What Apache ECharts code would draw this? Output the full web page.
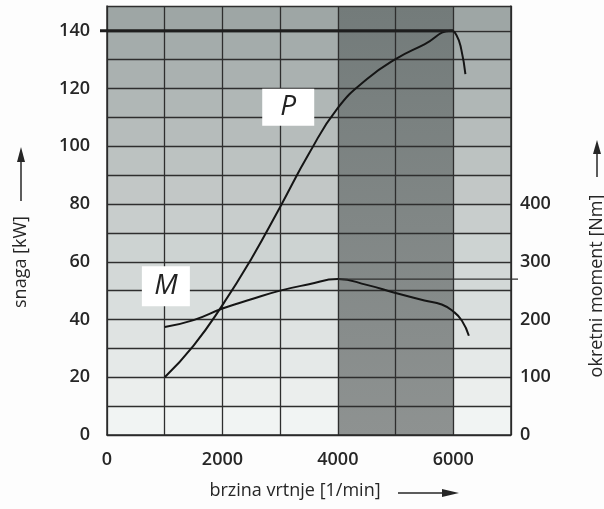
<!DOCTYPE html>
<html><head><meta charset="utf-8">
<script src="https://cdn.jsdelivr.net/npm/echarts@6/dist/echarts.min.js"></script>
<style>html,body{margin:0;padding:0;background:#fdfdfd}#c{width:604px;height:509px}</style>
</head><body><div id="c"></div>
<script>
// ---- data ----
const rpmTicks = [0, 2000, 4000, 6000];
const powerTicks = [0, 20, 40, 60, 80, 100, 120, 140];
const torqueTicks = [0, 100, 200, 300, 400];
const powerRpm = [1000, 1500, 2000, 2500, 3000, 3500, 4000, 4500, 5000, 5500, 5960, 6060, 6140, 6210];
const powerKW  = [20, 31, 45, 61, 79, 97.5, 113.3, 123.2, 130.2, 135.3, 140, 138.3, 133.4, 125];
const torqueRpm = [1000, 1500, 2000, 2500, 3000, 3500, 4000, 4500, 5000, 5500, 5800, 6000, 6150, 6270];
const torqueNm  = [187, 199, 219, 235, 250, 261, 270, 260, 246, 233, 226, 214, 198, 172];
const peakPower = [6000, 140];
const peakTorque = [4000, 270];
const ratedBand = [4000, 6000];
const labelP = [3140, 113.5];
const labelM = [1020, 51.5];

// ---- build ----
const xMax = 7000, yMax = 148.6, ratio = 5;
const pData = powerRpm.map((r, i) => [r, powerKW[i]]);
const mData = torqueRpm.map((r, i) => [r, torqueNm[i]]);

const rows = [];
const nRows = Math.ceil(yMax / 10);
for (let i = 0; i < nRows; i++) {
  const t = i / (nRows - 1);
  const c = [Math.round(241 - t * 83), Math.round(244 - t * 78), Math.round(243 - t * 78)];
  rows.push([{ yAxis: i * 10, itemStyle: { color: `rgb(${c.join(',')})` } }, { yAxis: Math.min((i + 1) * 10, yMax) }]);
}

const font = '"Open Sans", "Noto Sans", sans-serif';
const txt = '#262626';
const gridCol = '#2e2e2e';
const chart = echarts.init(document.getElementById('c'), null, { renderer: 'canvas' });
chart.setOption({
  backgroundColor: '#fdfdfd',
  animation: false,
  grid: { left: 107, right: 93, top: 6, bottom: 74, containLabel: false },
  xAxis: {
    type: 'value', min: 0, max: xMax, interval: 1000, z: 3,
    axisLine: { show: true, lineStyle: { color: '#2a2a2a', width: 1.5 } },
    axisTick: { show: false },
    splitLine: { show: true, lineStyle: { color: gridCol, width: 1.3 } },
    axisLabel: { margin: 16, fontFamily: font, fontSize: 18, fontWeight: 600, color: txt,
      formatter: v => rpmTicks.includes(v) ? String(v) : '' }
  },
  yAxis: [
    { type: 'value', min: 0, max: yMax, interval: 10, z: 3,
      axisLine: { show: true, lineStyle: { color: '#2a2a2a', width: 1.5 } },
      axisTick: { show: false },
      splitLine: { show: true, lineStyle: { color: gridCol, width: 1.3 } },
      axisLabel: { margin: 17, fontFamily: font, fontSize: 18, fontWeight: 600, color: txt,
        formatter: v => powerTicks.includes(v) ? String(v) : '' } },
    { type: 'value', min: 0, max: yMax * ratio, interval: 100, position: 'right', z: 3,
      axisLine: { show: true, lineStyle: { color: '#2a2a2a', width: 1.5 } },
      axisTick: { show: false }, splitLine: { show: false },
      axisLabel: { margin: 9, fontFamily: font, fontSize: 18, fontWeight: 600, color: txt,
        formatter: v => torqueTicks.includes(v) ? String(v) : '' } }
  ],
  series: [
    { type: 'line', data: [], z: 1, silent: true,
      markArea: { silent: true, data: rows.concat([[
        { xAxis: ratedBand[0], itemStyle: { color: { type: 'linear', x: 0, y: 0, x2: 0, y2: 1,
          colorStops: [{ offset: 0, color: '#737b7a' }, { offset: 1, color: '#8e9291' }] } } },
        { xAxis: ratedBand[1] }]]) } },
    { name: 'P', type: 'line', yAxisIndex: 0, data: pData, smooth: 0.5, symbol: 'none',
      lineStyle: { color: '#151515', width: 2 }, z: 10,
      markPoint: { silent: true, symbol: 'rect', symbolSize: [52, 37],
        itemStyle: { color: '#ffffff' },
        label: { show: true, formatter: 'P', fontFamily: font, fontStyle: 'italic', fontSize: 28, color: '#222' },
        data: [{ coord: labelP }] } },
    { name: 'M', type: 'line', yAxisIndex: 1, data: mData, smooth: 0.5, symbol: 'none',
      lineStyle: { color: '#151515', width: 2 }, z: 10,
      markPoint: { silent: true, symbol: 'rect', symbolSize: [48, 40],
        itemStyle: { color: '#ffffff' },
        label: { show: true, formatter: 'M', fontFamily: font, fontStyle: 'italic', fontSize: 28, color: '#222' },
        data: [{ coord: [labelM[0], labelM[1] * ratio] }] } }
  ]
});

// reference lines & titles (positions derived from the chart's own scales)
const pPeak = chart.convertToPixel({ xAxisIndex: 0, yAxisIndex: 0 }, peakPower);
const pLeft = chart.convertToPixel({ xAxisIndex: 0, yAxisIndex: 0 }, [0, peakPower[1]]);
const mPeak = chart.convertToPixel({ xAxisIndex: 0, yAxisIndex: 1 }, peakTorque);
const mRight = chart.convertToPixel({ xAxisIndex: 0, yAxisIndex: 1 }, [xMax, peakTorque[1]]);
const tf = '18px ' + font;
chart.setOption({
  graphic: [
    { type: 'line', z: 20, shape: { x1: pLeft[0] - 7, y1: pPeak[1], x2: pPeak[0], y2: pPeak[1] },
      style: { stroke: '#1e1e1e', lineWidth: 3 } },
    { type: 'line', z: 20, shape: { x1: mPeak[0], y1: mPeak[1], x2: mRight[0] + 7, y2: mPeak[1] },
      style: { stroke: '#303030', lineWidth: 1.3 } },
    { type: 'text', x: 21, y: 262, rotation: Math.PI / 2,
      style: { text: 'snaga [kW]', font: tf, fill: txt, align: 'center', verticalAlign: 'middle' } },
    { type: 'line', shape: { x1: 21, y1: 201, x2: 21, y2: 158 }, style: { stroke: txt, lineWidth: 1.5 } },
    { type: 'polygon', shape: { points: [[17, 162], [25, 162], [21, 147]] }, style: { fill: txt } },
    { type: 'text', x: 597, y: 286, rotation: Math.PI / 2,
      style: { text: 'okretni moment [Nm]', font: tf, fill: txt, align: 'center', verticalAlign: 'middle' } },
    { type: 'line', shape: { x1: 597, y1: 177, x2: 597, y2: 150 }, style: { stroke: txt, lineWidth: 1.5 } },
    { type: 'polygon', shape: { points: [[593, 154], [601, 154], [597, 140]] }, style: { fill: txt } },
    { type: 'text', x: 295, y: 491,
      style: { text: 'brzina vrtnje [1/min]', font: tf, fill: txt, align: 'center', verticalAlign: 'middle' } },
    { type: 'line', shape: { x1: 398, y1: 493, x2: 445, y2: 493 }, style: { stroke: txt, lineWidth: 1.5 } },
    { type: 'polygon', shape: { points: [[442, 489], [442, 497], [459, 493]] }, style: { fill: txt } }
  ]
});
</script></body></html>
